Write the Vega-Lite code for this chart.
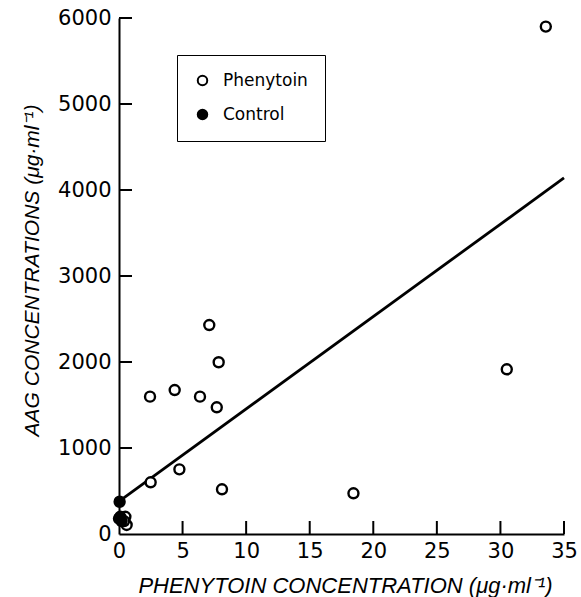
{
  "$schema": "https://vega.github.io/schema/vega-lite/v6.json",
  "autosize": "none",
  "width": 445,
  "height": 516,
  "padding": {"left": 119, "top": 18, "right": 17, "bottom": 63},
  "background": "white",
  "config": {
    "view": {"stroke": null},
    "axisX": {
      "grid": false, "domainColor": "black", "domainWidth": 2, "ticks": false, "tickSize": 0,
      "labelPadding": 6, "labelFont": "DejaVu Sans", "labelFontSize": 21, "labelColor": "black", "labelFlush": false,
      "titleFont": "Liberation Sans", "titleFontStyle": "italic", "titleFontWeight": "normal",
      "titleFontSize": 22, "titleColor": "black", "titleX": 226, "titleY": 58, "titleBaseline": "alphabetic"
    },
    "axisY": {
      "grid": false, "domainColor": "black", "domainWidth": 2, "ticks": false, "tickSize": 0,
      "labelPadding": 8, "labelFont": "DejaVu Sans", "labelFontSize": 21, "labelColor": "black", "labelFlush": false,
      "titleFont": "Liberation Sans", "titleFontStyle": "italic", "titleFontWeight": "normal",
      "titleFontSize": 21, "titleColor": "black", "titleX": -81, "titleY": 252, "titleBaseline": "alphabetic"
    }
  },
  "datasets": {
    "pts": [
      {"x": 33.57, "y": 5900, "group": "Phenytoin"},
      {"x": 30.5, "y": 1915, "group": "Phenytoin"},
      {"x": 18.44, "y": 473, "group": "Phenytoin"},
      {"x": 7.1, "y": 2430, "group": "Phenytoin"},
      {"x": 7.84, "y": 1997, "group": "Phenytoin"},
      {"x": 7.69, "y": 1473, "group": "Phenytoin"},
      {"x": 4.38, "y": 1674, "group": "Phenytoin"},
      {"x": 6.37, "y": 1597, "group": "Phenytoin"},
      {"x": 2.44, "y": 1597, "group": "Phenytoin"},
      {"x": 2.49, "y": 601, "group": "Phenytoin"},
      {"x": 4.75, "y": 752, "group": "Phenytoin"},
      {"x": 8.1, "y": 520, "group": "Phenytoin"},
      {"x": 0.6, "y": 105, "group": "Phenytoin"},
      {"x": 0.5, "y": 200, "group": "Phenytoin"},
      {"x": 0.4, "y": 150, "group": "Phenytoin"},
      {"x": 0.05, "y": 375, "group": "Control"},
      {"x": 0.1, "y": 200, "group": "Control"},
      {"x": 0.2, "y": 150, "group": "Control"},
      {"x": 0.0, "y": 180, "group": "Control"}
    ],
    "fit": [
      {"x": 0, "y": 380},
      {"x": 35, "y": 4140}
    ],
    "xticks": [{"x": 5, "y": 0}, {"x": 10, "y": 0}, {"x": 15, "y": 0}, {"x": 20, "y": 0}, {"x": 25, "y": 0}, {"x": 30, "y": 0}, {"x": 35, "y": 0}],
    "yticks": [{"x": 0, "y": 1000}, {"x": 0, "y": 2000}, {"x": 0, "y": 3000}, {"x": 0, "y": 4000}, {"x": 0, "y": 5000}, {"x": 0, "y": 6000}]
  },
  "encoding": {
    "x": {
      "field": "x", "type": "quantitative",
      "scale": {"domain": [0, 35], "nice": false, "zero": false},
      "axis": {"title": "PHENYTOIN CONCENTRATION (μg·ml⁻¹)", "values": [0, 5, 10, 15, 20, 25, 30, 35], "format": "d"}
    },
    "y": {
      "field": "y", "type": "quantitative",
      "scale": {"domain": [0, 6000], "nice": false},
      "axis": {"title": "AAG CONCENTRATIONS (μg·ml⁻¹)", "values": [0, 1000, 2000, 3000, 4000, 5000, 6000], "format": "d"}
    }
  },
  "layer": [
    {
      "data": {"name": "xticks"},
      "mark": {"type": "tick", "color": "black", "orient": "vertical", "size": 13, "thickness": 2, "yOffset": -6.5, "opacity": 1},
      "encoding": {}
    },
    {
      "data": {"name": "yticks"},
      "mark": {"type": "tick", "color": "black", "orient": "horizontal", "size": 13, "thickness": 2, "xOffset": 6.5, "opacity": 1},
      "encoding": {}
    },
    {
      "data": {"name": "fit"},
      "mark": {"type": "line", "color": "black", "strokeWidth": 2.8},
      "encoding": {}
    },
    {
      "data": {"name": "pts"},
      "mark": {"type": "point", "shape": "circle", "stroke": "black", "strokeWidth": 2.4, "size": 100, "opacity": 1, "filled": false},
      "encoding": {
        "fill": {
          "field": "group", "type": "nominal",
          "scale": {"domain": ["Phenytoin", "Control"], "range": ["white", "black"]},
          "legend": {
            "title": null, "orient": "none", "legendX": 58, "legendY": 37,
            "strokeColor": "black", "fillColor": "white",
            "padding": 17, "rowPadding": 15,
            "symbolType": "circle", "symbolSize": 90, "symbolStrokeColor": "black", "symbolStrokeWidth": 2,
            "labelFont": "DejaVu Sans", "labelFontSize": 17, "labelColor": "black", "labelOffset": 12
          }
        }
      }
    }
  ]
}
